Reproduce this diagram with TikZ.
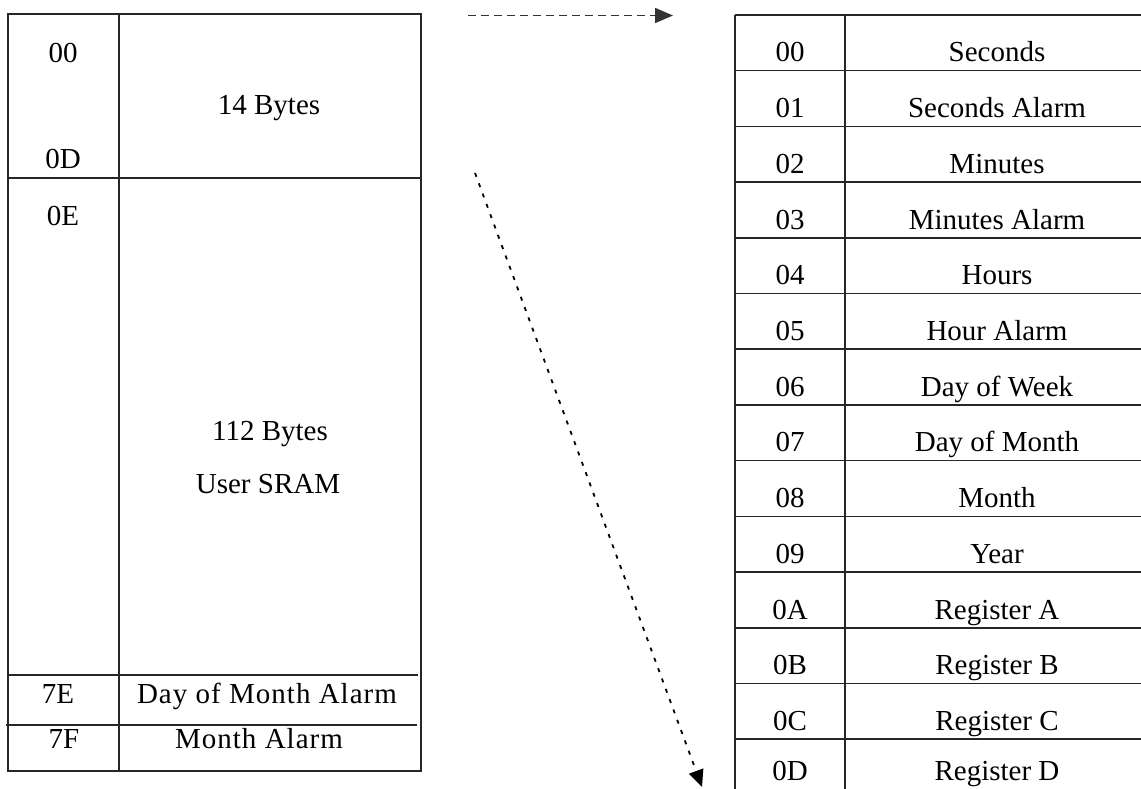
\documentclass[tikz,border=0pt]{standalone}
\usepackage{fontspec}
\setmainfont{Liberation Serif}
\usetikzlibrary{positioning}
\usetikzlibrary{arrows.meta}
\tikzset{
    cellt/.style = {anchor=base, inner sep=0pt, font=\fontsize{29}{34}\selectfont, text=black},
    spaced/.style = {font=\fontsize{29}{34}\selectfont\addfontfeature{LetterSpace=3.5}},
    gridl/.style = {-, line width=1.6pt, black!85},
    edged/.style = {-{Triangle[length=18pt,width=15pt]}, line width=1.8pt, black!80, dash pattern=on 8pt off 5pt},
    edgev/.style = {-{Triangle[length=17pt,width=15pt]}, line width=1.8pt, black, dash pattern=on 4pt off 7pt}
}

\begin{document}
\begin{tikzpicture}[x=1pt,y=-1pt]
\useasboundingbox (0,0) rectangle (1141,789);
\clip (0,0) rectangle (1141,789);
% left table
\draw[gridl] (8,14) rectangle (421,771);
\draw[gridl] (119,14) -- (119,771);
\draw[gridl] (8,178) -- (421,178);
\draw[gridl] (8,675) -- (418,675);
\draw[gridl] (6,725) -- (417,725);
\node[cellt] at (63,63) (a00) {00};
\node[cellt] at (63,168) (a0d) {0D};
\node[cellt] at (269,115) (rtc) {14 Bytes};
\node[cellt] at (63,225) (a0e) {0E};
\node[cellt] at (270,440) (sram1) {112 Bytes};
\node[cellt] at (268,493) (sram2) {User SRAM};
\node[cellt] at (58,703) (a7e) {7E};
\node[cellt, spaced] at (267,703) (dma) {Day of Month Alarm};
\node[cellt] at (64,748) (a7f) {7F};
\node[cellt, spaced] at (259,748) (ma) {Month Alarm};
% right table
\draw[gridl] (735,15) -- (735,789);
\draw[gridl] (845,15) -- (845,789);
\foreach \i in {0,...,13}
    \draw[gridl] (735,{15+55.7*\i}) -- (1141,{15+55.7*\i});
\foreach \i/\adr/\reg in {0/00/Seconds, 1/01/Seconds Alarm, 2/02/Minutes,
    3/03/Minutes Alarm, 4/04/Hours, 5/05/Hour Alarm, 6/06/Day of Week,
    7/07/Day of Month, 8/08/Month, 9/09/Year, 10/0A/Register A,
    11/0B/Register B, 12/0C/Register C, 13/0D/Register D} {
    \node[cellt] at (790,{min(15+55.7*\i+47,780)}) (r\i) {\adr};
    \node[cellt] at (997,{min(15+55.7*\i+47,780)}) (n\i) {\reg};
}
% arrows
\coordinate (dstart) at (468,15.5);
\coordinate (dend) at (673,15.5);
\coordinate (vstart) at (475,173);
\coordinate (vend) at (702,787);
\draw[edged] (dstart) -- (dend);
\draw[edgev] (vstart) -- (vend);
\end{tikzpicture}
\end{document}
